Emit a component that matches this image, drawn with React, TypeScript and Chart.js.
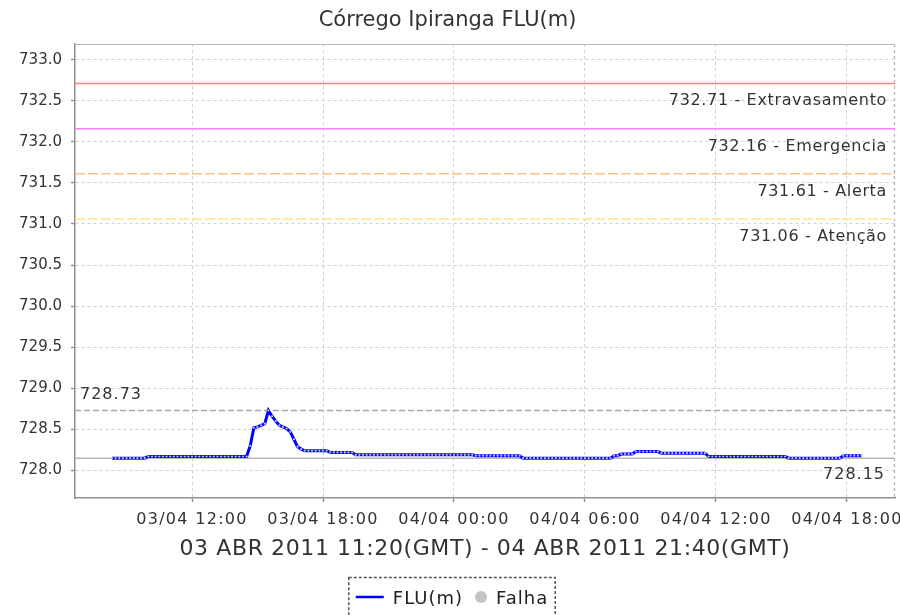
import React, { useEffect, useRef } from 'react';
import { Chart, registerables, LinearScale } from 'chart.js';

// ---- data ----
const chartTitle = 'Córrego Ipiranga FLU(m)';
const xAxisTitle = '03 ABR 2011 11:20(GMT) - 04 ABR 2011 21:40(GMT)';
const seriesLabel = 'FLU(m)';
const failLabel = 'Falha';

// readings every 10 minutes, hours counted from 03/04 00:00 (local)
const START_HOUR = 8 + 20 / 60;
const STEP_HOURS = 10 / 60;

const fluValues = [
  728.15, 728.15, 728.15, 728.15, 728.15, 728.15, 728.15, 728.15, 728.15, 728.15,
  728.17, 728.17, 728.17, 728.17, 728.17, 728.17, 728.17, 728.17, 728.17, 728.17, 728.17, 728.17, 728.17, 728.17,
  728.17, 728.17, 728.17, 728.17, 728.17, 728.17, 728.17, 728.17, 728.17, 728.17, 728.17, 728.17, 728.17, 728.17,
  728.30, 728.52, 728.53, 728.55, 728.57, 728.73, 728.66, 728.60, 728.55, 728.53, 728.51, 728.47, 728.38, 728.29, 728.26,
  728.24, 728.24, 728.24, 728.24, 728.24, 728.24, 728.24,
  728.22, 728.22, 728.22, 728.22, 728.22, 728.22, 728.22,
  728.19, 728.19, 728.19, 728.19, 728.19, 728.19, 728.19, 728.19, 728.19, 728.19, 728.19,
  728.19, 728.19, 728.19, 728.19, 728.19, 728.19, 728.19, 728.19, 728.19, 728.19, 728.19,
  728.19, 728.19, 728.19, 728.19, 728.19, 728.19, 728.19, 728.19, 728.19, 728.19, 728.19,
  728.18, 728.18, 728.18, 728.18, 728.18, 728.18, 728.18, 728.18, 728.18, 728.18, 728.18, 728.18, 728.18,
  728.15, 728.15, 728.15, 728.15, 728.15, 728.15, 728.15, 728.15, 728.15, 728.15, 728.15, 728.15, 728.15,
  728.15, 728.15, 728.15, 728.15, 728.15, 728.15, 728.15, 728.15, 728.15, 728.15, 728.15, 728.15,
  728.18, 728.18,
  728.20, 728.20, 728.20, 728.20,
  728.23, 728.23, 728.23, 728.23, 728.23, 728.23, 728.23,
  728.21, 728.21, 728.21, 728.21, 728.21, 728.21, 728.21, 728.21, 728.21, 728.21, 728.21, 728.21, 728.21,
  728.17, 728.17, 728.17, 728.17, 728.17, 728.17, 728.17, 728.17, 728.17, 728.17, 728.17,
  728.17, 728.17, 728.17, 728.17, 728.17, 728.17, 728.17, 728.17, 728.17, 728.17, 728.17,
  728.15, 728.15, 728.15, 728.15, 728.15, 728.15, 728.15, 728.15, 728.15, 728.15, 728.15, 728.15, 728.15, 728.15, 728.15,
  728.18, 728.18, 728.18, 728.18, 728.18, 728.18,
];

const xTickHours = [12, 18, 24, 30, 36, 42];
const xTickLabels = ['03/04 12:00', '03/04 18:00', '04/04 00:00', '04/04 06:00', '04/04 12:00', '04/04 18:00'];
const yTickValues = [728.0, 728.5, 729.0, 729.5, 730.0, 730.5, 731.0, 731.5, 732.0, 732.5, 733.0];

const X_MIN = 6.64;
const X_MAX = 44.2;
const Y_MIN = 727.665;
const Y_MAX = 733.19;

const thresholdValues = [732.71, 732.16, 731.61, 731.06];
const thresholdNames = ['Extravasamento', 'Emergencia', 'Alerta', 'Atenção'];
const thresholdColors = ['#ff8080', '#ff80ff', '#ffbf80', '#ffe680'];
const thresholdDashes = [[], [], [10, 3], [10, 3]];

const maxValue = 728.73;
const minValue = 728.15;

// ---- custom scale: letter-spaced labels like the Java renderer ----
class SpacedLinearScale extends LinearScale {
  static id = 'spacedLinear';
  static defaults = LinearScale.defaults;
  drawLabels(chartArea: any) {
    const ctx: any = this.ctx;
    ctx.save();
    ctx.letterSpacing = (this.options as any).labelSpacing || '0px';
    super.drawLabels(chartArea);
    ctx.restore();
  }
  drawTitle() {
    const ctx: any = this.ctx;
    ctx.save();
    ctx.letterSpacing = (this.options as any).titleSpacing || '0px';
    super.drawTitle();
    ctx.restore();
  }
}

Chart.register(...registerables, SpacedLinearScale);

const FONT = '"DejaVu Sans", sans-serif';

const whiteBg = {
  id: 'whiteBg',
  beforeDraw(chart: any) {
    const ctx = chart.ctx;
    ctx.save();
    ctx.fillStyle = '#ffffff';
    ctx.fillRect(0, 0, chart.width, chart.height);
    ctx.restore();
  },
};

const plotFrame = {
  id: 'plotFrame',
  beforeDatasetsDraw(chart: any) {
    const { ctx, chartArea } = chart;
    ctx.save();
    ctx.strokeStyle = '#b4b4b4';
    ctx.lineWidth = 1.2;
    ctx.beginPath();
    ctx.moveTo(chartArea.left, chartArea.top + 0.5);
    ctx.lineTo(chartArea.right, chartArea.top + 0.5);
    ctx.stroke();
    ctx.setLineDash([3, 3]);
    ctx.beginPath();
    ctx.moveTo(chartArea.right - 0.5, chartArea.top);
    ctx.lineTo(chartArea.right - 0.5, chartArea.bottom);
    ctx.stroke();
    ctx.restore();
  },
};

const markerLabels = {
  id: 'markerLabels',
  afterDatasetsDraw(chart: any) {
    const { ctx, chartArea } = chart;
    const y = chart.scales.y;
    ctx.save();
    ctx.font = '16px ' + FONT;
    (ctx as any).letterSpacing = '0.65px';
    ctx.fillStyle = '#333333';
    ctx.textBaseline = 'alphabetic';
    ctx.textAlign = 'right';
    thresholdValues.forEach((v, i) => {
      const py = y.getPixelForValue(v);
      ctx.fillText(v.toFixed(2) + ' - ' + thresholdNames[i], chartArea.right - 8, py + 22);
    });
    (ctx as any).letterSpacing = '1px';
    ctx.textAlign = 'left';
    ctx.fillText(maxValue.toFixed(2), chartArea.left + 5, y.getPixelForValue(maxValue) - 11);
    ctx.textAlign = 'right';
    ctx.fillText(minValue.toFixed(2), chartArea.right - 10, y.getPixelForValue(minValue) + 21);
    ctx.restore();
  },
};

const legendBox = {
  id: 'legendBox',
  afterDraw(chart: any) {
    const ctx = chart.ctx;
    ctx.save();
    ctx.font = '18px ' + FONT;
    (ctx as any).letterSpacing = '1px';
    const w1 = ctx.measureText(seriesLabel).width;
    const w2 = ctx.measureText(failLabel).width;
    const lineLen = 28;
    const gap = 9;
    const itemGap = 12;
    const circleR = 6;
    const inner = lineLen + gap + w1 + itemGap + circleR * 2 + gap + w2;
    const padX = 7;
    const cx = 452;
    const left = cx - inner / 2;
    const boxTop = 577.5;
    const cy = 597;
    // dashed frame
    ctx.strokeStyle = '#555555';
    ctx.lineWidth = 1.5;
    ctx.setLineDash([3, 2]);
    ctx.strokeRect(left - padX, boxTop, inner + padX * 2, 60);
    ctx.setLineDash([]);
    // series line
    ctx.strokeStyle = '#0000ff';
    ctx.lineWidth = 2.5;
    ctx.beginPath();
    ctx.moveTo(left, cy);
    ctx.lineTo(left + lineLen, cy);
    ctx.stroke();
    ctx.fillStyle = '#222222';
    ctx.textBaseline = 'alphabetic';
    ctx.textAlign = 'left';
    ctx.fillText(seriesLabel, left + lineLen + gap, cy + 7);
    const cxCircle = left + lineLen + gap + w1 + itemGap + circleR;
    ctx.fillStyle = '#c4c4c4';
    ctx.beginPath();
    ctx.arc(cxCircle, cy, circleR, 0, Math.PI * 2);
    ctx.fill();
    ctx.fillStyle = '#222222';
    ctx.fillText(failLabel, cxCircle + circleR + gap, cy + 7);
    ctx.restore();
  },
};

export default function App() {
  const canvasRef = useRef<HTMLCanvasElement | null>(null);

  useEffect(() => {
    const canvas = canvasRef.current;
    if (!canvas) return;

    Chart.defaults.font.family = FONT;
    Chart.defaults.color = '#333333';

    const fluPoints = fluValues.map((v, i) => ({ x: START_HOUR + i * STEP_HOURS, y: v }));

    const thresholdSets = thresholdValues.map((v, i) => ({
      label: thresholdNames[i],
      data: [{ x: X_MIN, y: v }, { x: X_MAX, y: v }],
      borderColor: thresholdColors[i],
      borderWidth: 1.5,
      borderDash: thresholdDashes[i],
      pointRadius: 0,
      order: 2,
    }));

    const chart = new Chart(canvas, {
      type: 'line',
      data: {
        datasets: [
          {
            label: seriesLabel,
            data: fluPoints,
            borderColor: '#0000ff',
            borderWidth: 3,
            pointRadius: 1.1,
            pointBorderWidth: 0,
            pointBackgroundColor: '#c0c0ff',
            tension: 0,
            order: 0,
          },
          {
            label: failLabel,
            data: [],
            backgroundColor: '#c4c4c4',
            borderColor: '#c4c4c4',
            pointStyle: 'circle',
            order: 1,
          },
          ...thresholdSets,
          {
            label: 'max',
            data: [{ x: X_MIN, y: maxValue }, { x: X_MAX, y: maxValue }],
            borderColor: '#a8a8a8',
            borderWidth: 1.5,
            borderDash: [6, 3],
            pointRadius: 0,
            order: 2,
          },
          {
            label: 'min',
            data: [{ x: X_MIN, y: minValue }, { x: X_MAX, y: minValue }],
            borderColor: '#b8b8b8',
            borderWidth: 1.5,
            pointRadius: 0,
            order: 2,
          },
        ],
      },
      options: {
        responsive: false,
        animation: false,
        events: [],
        layout: { padding: { left: 0, right: 5, top: 0, bottom: 37 } },
        plugins: {
          legend: { display: false },
          tooltip: { enabled: false },
          title: {
            display: true,
            text: chartTitle,
            font: { family: FONT, size: 21, weight: 'normal' },
            color: '#333333',
            padding: { top: 8, bottom: 10.8 },
          },
        },
        scales: {
          x: {
            type: 'spacedLinear' as any,
            min: X_MIN,
            max: X_MAX,
            labelSpacing: '1.3px',
            titleSpacing: '0.6px',
            afterBuildTicks: (scale: any) => {
              scale.ticks = xTickHours.map((v) => ({ value: v }));
            },
            afterFit: (scale: any) => {
              scale.height = 80;
              scale.paddingLeft = 0;
              scale.paddingRight = 0;
            },
            ticks: {
              autoSkip: false,
              maxRotation: 0,
              minRotation: 0,
              padding: 8,
              color: '#333333',
              font: { family: FONT, size: 16 },
              callback: (value: any) => xTickLabels[xTickHours.indexOf(Number(value))],
            },
            grid: {
              color: '#d0d0d0',
              lineWidth: 1,
              drawTicks: true,
              tickLength: 4,
              tickColor: '#909090',
              tickWidth: 1.5,
              tickBorderDash: [],
            },
            border: { display: true, color: '#909090', width: 1.5, dash: [3, 3] },
            title: {
              display: true,
              text: xAxisTitle,
              color: '#333333',
              font: { family: FONT, size: 22 },
              padding: { top: 0, bottom: 15.8 },
            },
          } as any,
          y: {
            type: 'linear',
            min: Y_MIN,
            max: Y_MAX,
            afterBuildTicks: (scale: any) => {
              scale.ticks = yTickValues.map((v) => ({ value: v }));
            },
            afterFit: (scale: any) => {
              scale.width = 75;
              scale.paddingTop = 0;
              scale.paddingBottom = 0;
            },
            ticks: {
              padding: 9,
              color: '#333333',
              font: { family: FONT, size: 15 },
              callback: (value: any) => Number(value).toFixed(1),
            },
            grid: {
              color: '#d0d0d0',
              lineWidth: 1,
              drawTicks: true,
              tickLength: 4,
              tickColor: '#909090',
              tickWidth: 1.5,
              tickBorderDash: [],
            },
            border: { display: true, color: '#909090', width: 1.5, dash: [3, 3] },
          },
        },
      },
      plugins: [whiteBg, plotFrame, markerLabels, legendBox],
    } as any);

    return () => {
      chart.destroy();
    };
  }, []);

  return (
    <div style={{ position: 'fixed', left: 0, top: 0, width: 900, height: 615, background: '#ffffff' }}>
      <canvas ref={canvasRef} width={900} height={615} style={{ display: 'block', width: 900, height: 615 }} />
    </div>
  );
}
